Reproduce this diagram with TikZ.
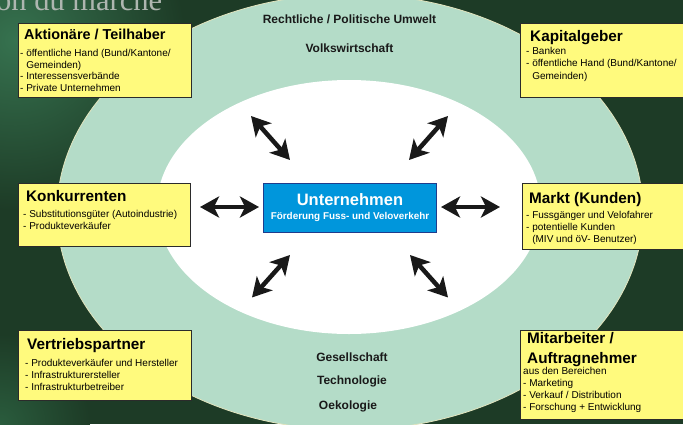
\documentclass[tikz,border=0pt]{standalone}
\usepackage{fontspec}
\setmainfont{Liberation Sans}
\newfontfamily\serifttl{Liberation Serif}
\usetikzlibrary{arrows.meta}
\definecolor{bg}{HTML}{1D3B26}
\definecolor{bgglow}{HTML}{36724F}
\definecolor{bgglowb}{HTML}{2A5C3D}
\definecolor{ring}{HTML}{B4DCC8}
\definecolor{ringedge}{HTML}{E2E4BE}
\definecolor{boxyel}{HTML}{FFFA7D}
\definecolor{boxedge}{HTML}{2B2B2B}
\definecolor{ublue}{HTML}{0096DC}
\definecolor{ubedge}{HTML}{1F3C8C}
\definecolor{ttlgray}{HTML}{AEB6B0}
\begin{document}
\begin{tikzpicture}[x=1pt,y=-1pt,
 box/.style={draw=boxedge, line width=0.9pt, fill=boxyel, inner sep=0pt, anchor=north west},
 ttl/.style={font=\fontsize{15.3}{17}\selectfont\bfseries, text=black, inner sep=0pt, anchor=base west},
 bodytxt/.style={font=\fontsize{10}{12}\selectfont, text=black, inner sep=0pt, anchor=base west},
 ringtxt/.style={font=\fontsize{12}{14}\selectfont\bfseries, text=black!90, inner sep=0pt, anchor=base},
 dblarrow/.style={line width=4.5pt, black!90,
   {Stealth[length=19pt,width=21pt,inset=5pt]}-{Stealth[length=19pt,width=21pt,inset=5pt]}}]
\useasboundingbox (0,0) rectangle (683,424);
\clip (0,0) rectangle (683,424);
\fill[bg] (0,0) rectangle (683,424);
\shade[inner color=bgglow, outer color=bg] (15,40) circle (170pt);
\shade[inner color=bgglowb, outer color=bg] (0,424) circle (90pt);
% rings
\filldraw[fill=ring, draw=ringedge, line width=0.8pt] (350,212) ellipse [x radius=293pt, y radius=218pt];
\fill[white] (349,207) ellipse [x radius=192pt, y radius=127pt];
% title fragment
\node[font=\serifttl\fontsize{30.5}{32}\selectfont, text=ttlgray, anchor=base west, inner sep=0pt] (pagettl) at (-4,10.5) {on du marche};
% ring texts
\node[ringtxt] (r1) at (349.5,23.3) {Rechtliche / Politische Umwelt};
\node[ringtxt] (r2) at (349.5,52.3) {Volkswirtschaft};
\node[ringtxt] (r3) at (352,361.7) {Gesellschaft};
\node[ringtxt] (r4) at (352,384) {Technologie};
\node[ringtxt] (r5) at (348,409) {Oekologie};
% center box
\node[draw=ubedge, line width=0.9pt, fill=ublue, minimum width=173pt, minimum height=49pt, anchor=north west, inner sep=0pt] (un) at (263,183) {};
\node[font=\fontsize{16.5}{18}\selectfont\bfseries, text=white, anchor=base, inner sep=0pt] (un1) at (350,205) {Unternehmen};
\node[font=\fontsize{9.9}{11}\selectfont\bfseries, text=white, anchor=base, inner sep=0pt] (un2) at (350,219) {Förderung Fuss- und Veloverkehr};
% Aktionäre
\node[box, minimum width=173pt, minimum height=74pt] (ak) at (18,23) {};
\node[ttl, font=\fontsize{14.4}{17}\selectfont\bfseries] (akt) at (24,39) {Aktionäre / Teilhaber};
\node[bodytxt] (ak1) at (20,56.5) {- öffentliche Hand (Bund/Kantone/};
\node[bodytxt] (ak2) at (20,68.1) {\phantom{- }Gemeinden)};
\node[bodytxt] (ak3) at (20,79.7) {- Interessensverbände};
\node[bodytxt] (ak4) at (20,91.3) {- Private Unternehmen};
% Kapitalgeber
\node[box, minimum width=170pt, minimum height=74pt] (kg) at (520,23) {};
\node[ttl] (kgt) at (530,41.7) {Kapitalgeber};
\node[bodytxt] (kg1) at (526,54.5) {- Banken};
\node[bodytxt] (kg2) at (526,66.7) {- öffentliche Hand (Bund/Kantone/};
\node[bodytxt] (kg3) at (526,79) {\phantom{- }Gemeinden)};
% Konkurrenten
\node[box, minimum width=172pt, minimum height=63pt] (ko) at (18,183) {};
\node[ttl] (kot) at (26,201.7) {Konkurrenten};
\node[bodytxt] (ko1) at (23,217.3) {- Substitutionsgüter (Autoindustrie)};
\node[bodytxt] (ko2) at (23,229.3) {- Produkteverkäufer};
% Markt
\node[box, minimum width=170pt, minimum height=66pt] (mk) at (522,183) {};
\node[ttl] (mkt) at (529,203.3) {Markt (Kunden)};
\node[bodytxt] (mk1) at (526,218.7) {- Fussgänger und Velofahrer};
\node[bodytxt] (mk2) at (526,230.5) {- potentielle Kunden};
\node[bodytxt] (mk3) at (526,242.3) {\phantom{- }(MIV und öV- Benutzer)};
% Vertriebspartner
\node[box, minimum width=173pt, minimum height=70pt] (vp) at (18,330) {};
\node[ttl] (vpt) at (27,349) {Vertriebspartner};
\node[bodytxt] (vp1) at (25,366) {- Produkteverkäufer und Hersteller};
\node[bodytxt] (vp2) at (25,378.3) {- Infrastrukturersteller};
\node[bodytxt] (vp3) at (25,390.6) {- Infrastrukturbetreiber};
% Mitarbeiter
\node[box, minimum width=170pt, minimum height=89pt] (ma) at (520,330) {};
\node[ttl] (mat1) at (527,343.3) {Mitarbeiter /};
\node[ttl] (mat2) at (527,363.3) {Auftragnehmer};
\node[bodytxt] (ma1) at (523,374.3) {aus den Bereichen};
\node[bodytxt] (ma2) at (523,386.4) {- Marketing};
\node[bodytxt] (ma3) at (523,398.5) {- Verkauf / Distribution};
\node[bodytxt] (ma4) at (523,410.6) {- Forschung + Entwicklung};
% arrows
\coordinate (aLa) at (200,207); \coordinate (aLb) at (259,207);
\coordinate (aRa) at (441,207); \coordinate (aRb) at (500,207);
\coordinate (aULa) at (251,116); \coordinate (aULb) at (290,160);
\coordinate (aURa) at (448,116); \coordinate (aURb) at (409,160);
\coordinate (aLLa) at (290,255); \coordinate (aLLb) at (252,297.5);
\coordinate (aLRa) at (410,255); \coordinate (aLRb) at (448,297.5);
\draw[dblarrow] (aLa) -- (aLb);
\draw[dblarrow] (aRa) -- (aRb);
\draw[dblarrow] (aULa) -- (aULb);
\draw[dblarrow] (aURa) -- (aURb);
\draw[dblarrow] (aLLa) -- (aLLb);
\draw[dblarrow] (aLRa) -- (aLRb);
\end{tikzpicture}
\end{document}
